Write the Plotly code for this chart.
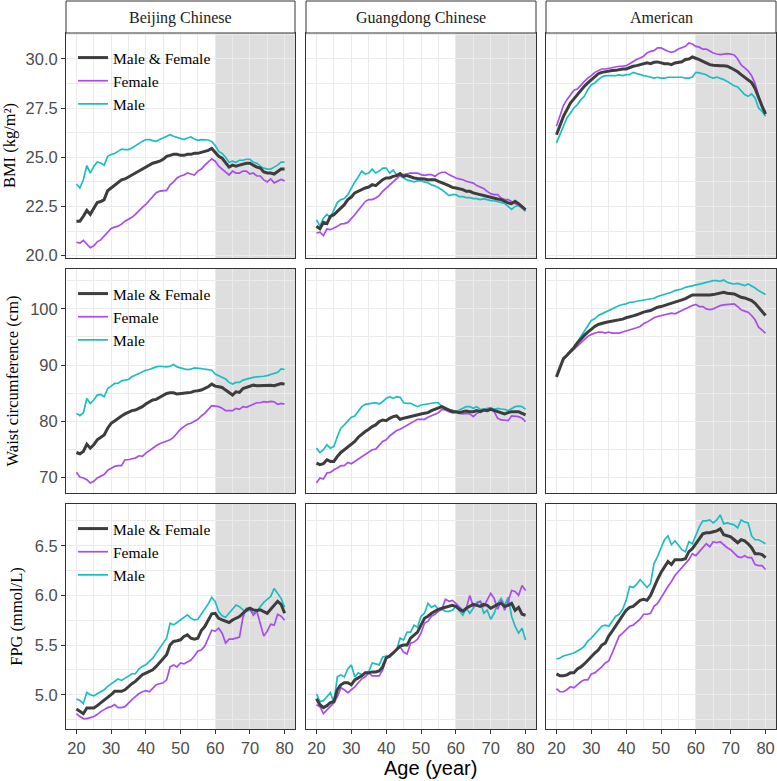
import plotly.graph_objects as go

ages = list(range(20, 81))
columns = ["Beijing Chinese", "Guangdong Chinese", "American"]
series_names = ["Male & Female", "Female", "Male"]
row_titles = ["BMI (kg/m\u00b2)", "Waist circumference (cm)", "FPG (mmol/L)"]

# ---------------- BMI ----------------
bmi_bj_all = [21.75, 21.75, 22.0, 22.3, 22.1, 22.4, 22.7, 22.75, 22.85, 23.3,
              23.45, 23.6, 23.7, 23.85, 23.9, 24.0, 24.1, 24.2, 24.3, 24.4,
              24.5, 24.6, 24.7, 24.75, 24.8, 24.9, 25.05, 25.1, 25.15, 25.15,
              25.1, 25.1, 25.15, 25.15, 25.2, 25.2, 25.25, 25.3, 25.35, 25.45,
              25.25, 25.05, 24.95, 24.75, 24.5, 24.6, 24.55, 24.6, 24.65, 24.7,
              24.7, 24.6, 24.5, 24.45, 24.25, 24.2, 24.2, 24.15, 24.3, 24.4,
              24.4]
bmi_bj_f = [20.68, 20.64, 20.78, 20.6, 20.4, 20.5, 20.7, 20.8, 21.0, 21.2,
            21.38, 21.45, 21.5, 21.6, 21.75, 21.85, 21.95, 22.1, 22.3, 22.45,
            22.6, 22.8, 23.0, 23.2, 23.28, 23.3, 23.32, 23.6, 23.75, 23.95,
            24.05, 24.1, 24.2, 24.15, 24.1, 24.3, 24.4, 24.6, 24.75, 24.92,
            24.8, 24.55, 24.4, 24.25, 24.1, 24.3, 24.2, 24.2, 24.3, 24.3,
            24.15, 24.2, 24.05, 24.05, 23.85, 23.75, 23.9, 23.7, 23.78, 23.87,
            23.8]
bmi_bj_m = [23.64, 23.44, 23.86, 24.58, 24.2, 24.54, 24.76, 24.71, 24.6, 25.05,
            25.14, 25.19, 25.3, 25.42, 25.39, 25.39, 25.47, 25.59, 25.69, 25.81,
            25.9, 25.9, 25.85, 25.81, 25.9, 25.98, 26.07, 26.15, 26.07, 26.0,
            25.93, 25.9, 25.98, 26.03, 25.93, 25.86, 25.9, 25.9, 25.88, 25.81,
            25.6, 25.3, 25.2, 25.0, 24.75, 24.8, 24.75, 24.85, 24.85, 24.9,
            24.9, 24.75, 24.7, 24.55, 24.45, 24.4, 24.4, 24.5, 24.6, 24.75,
            24.75]
bmi_gd_all = [21.49, 21.36, 21.69, 21.63, 22.0, 22.08, 22.25, 22.42, 22.59, 22.85,
              22.98, 23.19, 23.27, 23.39, 23.44, 23.49, 23.61, 23.56, 23.73, 23.86,
              23.95, 23.95, 24.03, 24.07, 24.17, 24.03, 24.07, 24.0, 23.95, 23.92,
              23.92, 23.9, 23.86, 23.86, 23.86, 23.78, 23.69, 23.64, 23.56, 23.47,
              23.44, 23.39, 23.36, 23.27, 23.27, 23.19, 23.14, 23.1, 23.05, 23.02,
              22.98, 22.93, 22.88, 22.85, 22.76, 22.68, 22.64, 22.76, 22.64, 22.51,
              22.34]
bmi_gd_f = [21.15, 21.19, 21.02, 21.36, 21.32, 21.39, 21.49, 21.61, 21.63, 21.69,
            21.86, 22.08, 22.31, 22.54, 22.75, 22.85, 22.85, 22.93, 23.05, 23.27,
            23.44, 23.61, 23.78, 23.95, 24.07, 24.12, 24.17, 24.2, 24.2, 24.2,
            24.12, 24.08, 24.12, 24.12, 24.03, 24.17, 24.24, 24.24, 24.12, 24.03,
            23.95, 23.9, 23.86, 23.78, 23.73, 23.69, 23.56, 23.49, 23.41, 23.27,
            23.15, 23.1, 23.1, 22.93, 22.85, 22.85, 22.76, 22.64, 22.59, 22.46,
            22.31]
bmi_gd_m = [21.83, 21.5, 21.9, 22.1, 21.95, 22.3, 22.7, 22.85, 22.9, 23.1,
            23.45, 23.75, 24.0, 24.3, 24.15, 24.2, 24.4, 24.2, 24.3, 24.45,
            24.45, 24.2, 24.35, 24.1, 24.05, 23.95, 23.85, 23.8, 23.75, 23.8,
            23.8, 23.75, 23.7, 23.6, 23.55, 23.45, 23.35, 23.2, 23.05, 23.1,
            23.1, 23.0, 23.0, 22.95, 22.95, 22.9, 22.9, 22.85, 22.9, 22.85,
            22.8, 22.8, 22.75, 22.7, 22.65, 22.5, 22.35, 22.5, 22.55, 22.4,
            22.25]
bmi_am_all = [26.15, 26.66, 27.08, 27.42, 27.76, 27.97, 28.19, 28.41, 28.61, 28.78,
              28.95, 29.12, 29.25, 29.32, 29.36, 29.37, 29.41, 29.42, 29.46, 29.49,
              29.49, 29.58, 29.63, 29.66, 29.71, 29.76, 29.8, 29.76, 29.83, 29.85,
              29.8, 29.76, 29.76, 29.71, 29.8, 29.83, 29.86, 29.97, 30.0, 30.1,
              30.05, 29.97, 29.88, 29.8, 29.71, 29.68, 29.66, 29.66, 29.66, 29.63,
              29.55, 29.45, 29.35, 29.2, 29.08, 28.95, 28.8, 28.5, 28.0, 27.6,
              27.2]
bmi_am_f = [26.58, 27.17, 27.63, 27.93, 28.19, 28.41, 28.47, 28.69, 28.86, 29.03,
            29.15, 29.32, 29.42, 29.49, 29.49, 29.53, 29.54, 29.58, 29.63, 29.63,
            29.66, 29.76, 29.88, 29.97, 30.05, 30.14, 30.31, 30.39, 30.42, 30.56,
            30.56, 30.47, 30.39, 30.34, 30.39, 30.51, 30.56, 30.64, 30.81, 30.76,
            30.64, 30.6, 30.5, 30.5, 30.4, 30.3, 30.25, 30.22, 30.25, 30.27,
            30.25, 30.2, 30.0, 29.7, 29.55, 29.4, 29.15, 28.75, 28.1, 27.6,
            27.3]
bmi_am_m = [25.73, 26.15, 26.66, 27.0, 27.25, 27.51, 27.68, 27.93, 28.1, 28.44,
            28.69, 28.78, 28.95, 29.08, 29.15, 29.15, 29.12, 29.15, 29.19, 29.15,
            29.2, 29.2, 29.32, 29.25, 29.2, 29.15, 29.12, 29.08, 29.03, 29.07,
            29.03, 29.03, 29.07, 29.07, 29.07, 29.07, 29.07, 29.03, 29.03, 29.08,
            29.32, 29.29, 29.25, 29.2, 29.08, 29.03, 29.08, 29.03, 28.95, 28.86,
            28.75, 28.64, 28.58, 28.41, 28.19, 28.1, 28.22, 28.02, 27.51, 27.34,
            27.08]

# ---------------- Waist circumference ----------------
waist_bj_all = [74.42, 74.19, 74.6, 75.9, 75.19, 75.78, 76.67, 77.14, 77.55, 78.74,
                79.62, 80.04, 80.51, 80.92, 81.28, 81.57, 81.87, 81.98, 82.28, 82.58,
                83.05, 83.46, 83.76, 83.87, 84.23, 84.64, 84.94, 85.06, 85.06, 84.82,
                84.94, 84.94, 85.06, 85.12, 85.35, 85.41, 85.53, 85.82, 86.12, 86.59,
                86.24, 86.12, 86.0, 85.53, 85.06, 84.64, 85.23, 85.12, 85.82, 86.0,
                86.24, 86.41, 86.3, 86.36, 86.41, 86.36, 86.41, 86.3, 86.53, 86.71,
                86.59]
waist_bj_f = [70.88, 70.05, 69.88, 69.58, 68.99, 69.29, 69.88, 70.17, 70.47, 71.23,
              71.65, 71.94, 72.06, 72.06, 73.12, 73.12, 73.3, 73.42, 73.83, 73.72,
              74.31, 74.78, 75.19, 75.61, 75.96, 76.2, 76.37, 76.67, 77.14, 77.85,
              78.56, 79.03, 79.44, 79.62, 79.92, 80.33, 80.92, 81.39, 82.1, 82.75,
              82.69, 82.58, 82.28, 81.87, 81.87, 81.87, 82.28, 82.1, 82.58, 82.46,
              82.75, 83.05, 83.28, 83.28, 83.46, 83.4, 83.52, 83.46, 82.99, 83.17,
              83.05]
waist_bj_m = [81.39, 80.98, 81.51, 84.05, 83.17, 83.76, 84.64, 84.76, 84.35, 85.82,
              86.24, 86.71, 86.71, 87.18, 87.3, 87.42, 87.89, 88.19, 88.48, 88.9,
              89.07, 89.19, 89.49, 89.66, 89.78, 89.66, 89.66, 89.78, 90.08, 89.66,
              89.55, 89.31, 89.19, 89.25, 89.49, 89.49, 89.37, 89.25, 89.19, 89.07,
              88.4, 88.1, 87.9, 87.5, 86.9, 86.6, 86.9, 86.9, 87.3, 87.5,
              87.7, 87.8, 87.9, 87.9, 88.0, 88.1, 88.3, 88.5, 88.7, 89.3,
              89.2]
waist_gd_all = [72.53, 72.24, 72.42, 73.12, 72.83, 72.83, 73.72, 74.42, 74.9, 75.37,
                75.96, 76.37, 77.14, 77.73, 78.15, 78.56, 79.03, 79.33, 79.92, 80.21,
                80.09, 80.51, 80.8, 80.92, 80.33, 80.51, 80.69, 80.8, 80.92, 81.1,
                81.28, 81.39, 81.51, 81.87, 82.1, 82.28, 82.58, 82.28, 81.98, 81.69,
                81.69, 81.51, 81.69, 81.81, 81.69, 81.69, 81.87, 81.69, 81.98, 81.87,
                82.1, 81.87, 81.69, 81.51, 81.28, 81.51, 81.69, 81.69, 81.69, 81.39,
                81.1]
waist_gd_f = [68.99, 69.88, 69.7, 70.76, 70.88, 71.35, 71.65, 72.06, 72.06, 72.65,
              72.42, 72.83, 73.24, 73.72, 74.19, 74.6, 74.9, 75.02, 75.78, 76.37,
              76.67, 77.38, 77.85, 78.32, 78.56, 78.91, 79.33, 79.62, 79.92, 80.33,
              80.33, 80.33, 80.69, 80.92, 81.28, 81.51, 82.1, 81.98, 81.69, 81.51,
              81.51, 81.39, 81.28, 81.39, 81.28, 80.8, 81.39, 81.69, 81.98, 82.1,
              82.28, 81.69, 80.51, 80.21, 80.09, 80.09, 80.92, 80.92, 80.8, 80.51,
              79.92]
waist_gd_m = [75.19, 74.42, 74.9, 75.78, 75.19, 75.49, 77.26, 78.74, 79.33, 80.09,
              80.69, 80.92, 81.69, 82.58, 82.99, 83.05, 83.17, 83.28, 83.05, 83.46,
              84.05, 84.35, 84.05, 84.35, 84.23, 83.28, 83.17, 83.17, 82.87, 82.58,
              82.87, 82.99, 83.17, 83.28, 83.28, 83.28, 82.58, 82.1, 81.98, 81.98,
              81.69, 81.98, 82.16, 82.58, 82.58, 82.28, 82.58, 82.1, 82.1, 82.22,
              82.4, 82.1, 82.28, 82.16, 82.1, 81.87, 82.28, 82.58, 82.69, 82.58,
              82.1]
waist_am_all = [87.89, 89.37, 91.14, 91.73, 92.32, 93.09, 93.92, 94.68, 95.27, 95.87,
                96.46, 96.87, 97.22, 97.46, 97.58, 97.7, 97.81, 97.93, 98.05, 98.17,
                98.41, 98.52, 98.76, 98.94, 99.23, 99.41, 99.59, 99.7, 100.0, 100.3,
                100.41, 100.59, 100.77, 101.0, 101.18, 101.36, 101.59, 101.83, 102.19, 102.48,
                102.48, 102.48, 102.36, 102.42, 102.48, 102.54, 102.66, 102.78, 102.95, 102.78,
                102.66, 102.66, 102.36, 102.07, 101.95, 101.77, 101.48, 101.0, 100.3, 99.41,
                98.82]
waist_am_f = [87.89, 89.37, 90.96, 91.61, 92.2, 92.91, 93.5, 94.09, 94.68, 95.1,
              95.45, 95.69, 95.87, 95.87, 95.69, 95.87, 95.69, 95.69, 95.69, 95.87,
              96.04, 96.16, 96.46, 96.63, 96.87, 97.34, 97.64, 98.05, 98.41, 98.64,
              98.82, 98.94, 99.11, 99.23, 99.11, 99.41, 99.7, 100.0, 100.3, 100.59,
              100.77, 100.41, 100.41, 100.0, 99.88, 100.0, 100.3, 100.59, 100.71, 100.77,
              100.77, 100.89, 100.41, 99.82, 99.59, 99.41, 98.82, 98.05, 96.75, 96.16,
              95.69]
waist_am_m = [87.89, 89.37, 91.14, 91.73, 92.44, 93.21, 94.09, 95.1, 96.16, 97.05,
              97.93, 98.23, 98.82, 99.11, 99.41, 99.7, 100.0, 100.3, 100.59, 100.77,
              100.89, 101.18, 101.18, 101.36, 101.48, 101.48, 101.59, 101.71, 101.89, 102.19,
              102.36, 102.54, 102.78, 102.95, 103.25, 103.37, 103.54, 103.84, 103.96, 104.13,
              104.31, 104.43, 104.55, 104.73, 104.9, 105.02, 105.02, 104.9, 105.14, 104.73,
              104.55, 104.43, 104.55, 104.31, 104.13, 104.43, 104.13, 103.72, 103.25, 102.95,
              102.54]

# ---------------- FPG ----------------
fpg_bj_all = [4.856, 4.833, 4.809, 4.866, 4.866, 4.866, 4.890, 4.916, 4.950, 4.977,
              5.0, 5.034, 5.034, 5.034, 5.050, 5.084, 5.111, 5.134, 5.168, 5.201,
              5.218, 5.235, 5.251, 5.285, 5.325, 5.358, 5.402, 5.502, 5.536, 5.543,
              5.553, 5.586, 5.603, 5.569, 5.559, 5.569, 5.646, 5.686, 5.753, 5.814,
              5.820, 5.770, 5.753, 5.737, 5.727, 5.753, 5.770, 5.787, 5.820, 5.854,
              5.871, 5.854, 5.847, 5.854, 5.837, 5.820, 5.861, 5.90, 5.94, 5.91,
              5.82]
fpg_bj_f = [4.81, 4.78, 4.76, 4.76, 4.77, 4.78, 4.80, 4.83, 4.85, 4.87,
            4.88, 4.90, 4.87, 4.87, 4.88, 4.92, 4.95, 4.98, 5.01, 5.03,
            5.04, 5.03, 5.07, 5.10, 5.11, 5.12, 5.15, 5.28, 5.30, 5.28,
            5.32, 5.31, 5.33, 5.35, 5.39, 5.44, 5.45, 5.49, 5.57, 5.65,
            5.64, 5.67, 5.62, 5.52, 5.56, 5.56, 5.57, 5.58, 5.78, 5.87,
            5.87, 5.80, 5.84, 5.70, 5.59, 5.64, 5.71, 5.70, 5.81, 5.79,
            5.75]
fpg_bj_m = [4.957, 4.943, 4.910, 5.024, 5.0, 4.990, 5.010, 5.034, 5.050, 5.084,
            5.111, 5.134, 5.158, 5.144, 5.168, 5.191, 5.211, 5.211, 5.258, 5.285,
            5.301, 5.335, 5.368, 5.419, 5.469, 5.519, 5.569, 5.720, 5.703, 5.727,
            5.753, 5.780, 5.804, 5.770, 5.753, 5.760, 5.814, 5.854, 5.914, 5.981,
            5.938, 5.837, 5.794, 5.780, 5.820, 5.871, 5.904, 5.887, 5.854, 5.837,
            5.854, 5.820, 5.837, 5.887, 5.93, 5.96, 5.99, 6.07, 6.02, 5.97,
            5.88]
fpg_gd_all = [4.96, 4.90, 4.87, 4.89, 4.92, 4.93, 5.05, 5.10, 5.12, 5.12,
              5.10, 5.15, 5.17, 5.19, 5.22, 5.22, 5.23, 5.23, 5.24, 5.28,
              5.37, 5.39, 5.42, 5.46, 5.49, 5.50, 5.50, 5.57, 5.60, 5.63,
              5.70, 5.77, 5.79, 5.82, 5.84, 5.86, 5.87, 5.88, 5.89, 5.90,
              5.89, 5.86, 5.84, 5.87, 5.89, 5.91, 5.90, 5.89, 5.91, 5.90,
              5.87, 5.89, 5.91, 5.92, 5.89, 5.90, 5.92, 5.85, 5.88, 5.81,
              5.80]
fpg_gd_f = [4.90, 4.88, 4.81, 4.85, 4.88, 4.92, 4.98, 5.07, 5.05, 5.02,
            5.05, 5.08, 5.12, 5.16, 5.18, 5.22, 5.19, 5.19, 5.19, 5.25,
            5.37, 5.38, 5.42, 5.45, 5.48, 5.43, 5.41, 5.52, 5.53, 5.56,
            5.62, 5.72, 5.74, 5.79, 5.81, 5.84, 5.86, 5.96, 5.94, 5.95,
            5.92, 5.89, 5.85, 5.87, 6.00, 5.89, 5.92, 5.94, 5.89, 5.95,
            6.02, 5.97, 5.86, 5.95, 5.85, 5.94, 6.05, 6.04, 6.00, 6.10,
            6.05]
fpg_gd_m = [5.01, 4.93, 4.94, 4.98, 5.02, 4.92, 5.18, 5.20, 5.18, 5.26,
            5.30, 5.18, 5.22, 5.20, 5.22, 5.23, 5.32, 5.31, 5.30, 5.38,
            5.39, 5.39, 5.42, 5.45, 5.57, 5.55, 5.63, 5.63, 5.70, 5.68,
            5.79, 5.82, 5.92, 5.88, 5.90, 5.86, 5.86, 5.84, 5.84, 5.85,
            5.89, 5.84, 5.80, 5.87, 5.82, 5.87, 5.93, 5.94, 5.82, 5.85,
            5.76, 5.82, 5.92, 5.97, 5.90, 5.98, 5.79, 5.69, 5.62, 5.67,
            5.55]
fpg_am_all = [5.21, 5.19, 5.19, 5.20, 5.22, 5.22, 5.26, 5.28, 5.31, 5.35,
              5.39, 5.42, 5.45, 5.50, 5.52, 5.59, 5.64, 5.69, 5.74, 5.79,
              5.85, 5.88, 5.89, 5.92, 5.95, 5.96, 5.95, 6.00, 6.09, 6.16,
              6.23, 6.28, 6.34, 6.31, 6.36, 6.36, 6.36, 6.37, 6.44, 6.47,
              6.52, 6.57, 6.62, 6.63, 6.63, 6.64, 6.65, 6.67, 6.61, 6.60,
              6.59, 6.56, 6.53, 6.56, 6.55, 6.52, 6.48, 6.42, 6.42, 6.41,
              6.38]
fpg_am_f = [5.06, 5.03, 5.03, 5.05, 5.08, 5.07, 5.10, 5.13, 5.15, 5.15,
            5.21, 5.22, 5.25, 5.28, 5.32, 5.34, 5.42, 5.50, 5.59, 5.62,
            5.65, 5.69, 5.70, 5.73, 5.76, 5.81, 5.81, 5.82, 5.89, 5.92,
            5.98, 6.04, 6.09, 6.14, 6.20, 6.24, 6.28, 6.32, 6.36, 6.42,
            6.40, 6.44, 6.48, 6.52, 6.49, 6.54, 6.53, 6.54, 6.51, 6.48,
            6.46, 6.42, 6.39, 6.38, 6.40, 6.38, 6.38, 6.31, 6.30, 6.30,
            6.26]
fpg_am_m = [5.36, 5.37, 5.39, 5.40, 5.41, 5.42, 5.44, 5.46, 5.49, 5.54,
            5.57, 5.61, 5.65, 5.69, 5.70, 5.69, 5.74, 5.79, 5.81, 5.86,
            5.95, 6.09, 6.08, 6.11, 6.16, 6.12, 6.08, 6.12, 6.32, 6.39,
            6.47, 6.56, 6.60, 6.51, 6.55, 6.51, 6.46, 6.44, 6.54, 6.52,
            6.61, 6.69, 6.75, 6.75, 6.76, 6.73, 6.76, 6.81, 6.72, 6.73,
            6.72, 6.71, 6.68, 6.76, 6.74, 6.73, 6.60, 6.56, 6.56, 6.54,
            6.52]

data = [
    [(bmi_bj_all, bmi_bj_f, bmi_bj_m), (bmi_gd_all, bmi_gd_f, bmi_gd_m), (bmi_am_all, bmi_am_f, bmi_am_m)],
    [(waist_bj_all, waist_bj_f, waist_bj_m), (waist_gd_all, waist_gd_f, waist_gd_m), (waist_am_all, waist_am_f, waist_am_m)],
    [(fpg_bj_all, fpg_bj_f, fpg_bj_m), (fpg_gd_all, fpg_gd_f, fpg_gd_m), (fpg_am_all, fpg_am_f, fpg_am_m)],
]
for row in data:
    for trip in row:
        for s in trip:
            assert len(s) == len(ages)

x_ticks = [20, 30, 40, 50, 60, 70, 80]
x_minor = [25, 35, 45, 55, 65, 75]
y_ranges = [[19.88, 31.32], [67.2, 107.1], [4.655, 6.92]]
y_ticks = [[20.0, 22.5, 25.0, 27.5, 30.0], [70, 80, 90, 100], [5.0, 5.5, 6.0, 6.5]]
y_minor = [[21.25, 23.75, 26.25, 28.75, 31.25], [75, 85, 95, 105], [4.75, 5.25, 5.75, 6.25, 6.75]]
y_fmt = [".1f", "d", ".1f"]
shade_start = 60

colors = {"Male & Female": "#3d3d3d", "Female": "#a84cee", "Male": "#1bbec4"}
widths = {"Male & Female": 3.0, "Female": 1.7, "Male": 1.7}
ranks = {"Male & Female": 1, "Female": 2, "Male": 3}

W, H = 777, 781
col_px = [(66, 295), (306, 536), (546, 776)]
row_px = [(33, 258), (269, 493), (504, 729)]
strip_px = (1, 33)

SERIF = "Liberation Serif, Times New Roman, serif"
SANS = "Liberation Sans, Arial, sans-serif"
GRID = "#ebebeb"
BORDER = "#333333"
TICKC = "#4d4d4d"

fig = go.Figure()
layout = dict(
    width=W, height=H, template="none",
    margin=dict(l=0, r=0, t=0, b=0),
    paper_bgcolor="white", plot_bgcolor="white",
    showlegend=True, shapes=[], annotations=[],
)

legend_names = ["legend", "legend2", "legend3"]

for r in range(3):
    for c in range(3):
        i = r * 3 + c + 1
        xa = "x" if i == 1 else f"x{i}"
        ya = "y" if i == 1 else f"y{i}"
        xl, xr = col_px[c]
        yt, yb = row_px[r]
        bottom = (r == 2)
        left = (c == 0)
        layout[f"xaxis{i}"] = dict(
            domain=[xl / W, xr / W], anchor=ya, range=[17, 83],
            tickvals=x_ticks, showticklabels=bottom,
            ticks="outside" if bottom else "", ticklen=4, tickcolor=BORDER, tickwidth=1,
            tickfont=dict(family=SANS, size=16.5, color=TICKC),
            showgrid=True, gridcolor=GRID, gridwidth=1,
            minor=dict(tickvals=x_minor, showgrid=True, gridcolor=GRID, gridwidth=0.6, ticks=""),
            showline=True, mirror=True, linecolor=BORDER, linewidth=1, zeroline=False,
            automargin=False, fixedrange=True,
        )
        ydict = dict(
            domain=[1 - yb / H, 1 - yt / H], anchor=xa, range=y_ranges[r],
            tickvals=y_ticks[r], tickformat=y_fmt[r], showticklabels=left,
            ticks="outside" if left else "", ticklen=4, tickcolor=BORDER, tickwidth=1,
            tickfont=dict(family=SANS, size=16.5, color=TICKC),
            showgrid=True, gridcolor=GRID, gridwidth=1,
            minor=dict(tickvals=y_minor[r], showgrid=True, gridcolor=GRID, gridwidth=0.6, ticks=""),
            showline=True, mirror=True, linecolor=BORDER, linewidth=1, zeroline=False,
            automargin=False, fixedrange=True,
        )
        if left:
            ydict["title"] = dict(text=row_titles[r], font=dict(family=SERIF, size=16.5, color="black"), standoff=7)
        layout[f"yaxis{i}"] = ydict

        # shaded age >= 60 region
        layout["shapes"].append(dict(
            type="rect", xref=xa, yref=f"{ya} domain", x0=shade_start, x1=83, y0=0, y1=1,
            fillcolor="#dedede", line=dict(width=0), layer="below"))

        all_s, fem_s, male_s = data[r][c]
        for name, vals in (("Male", male_s), ("Female", fem_s), ("Male & Female", all_s)):
            fig.add_trace(go.Scatter(
                x=ages, y=vals, mode="lines", name=name,
                line=dict(color=colors[name], width=widths[name]),
                xaxis=xa, yaxis=ya,
                showlegend=left, legend=legend_names[r], legendrank=ranks[name],
                hoverinfo="skip",
            ))

# strips
for c, title in enumerate(columns):
    xl, xr = col_px[c]
    layout["shapes"].append(dict(
        type="rect", xref="paper", yref="paper",
        x0=xl / W, x1=xr / W, y0=1 - strip_px[1] / H, y1=1 - strip_px[0] / H,
        fillcolor="white", line=dict(color=BORDER, width=1), layer="above"))
    layout["annotations"].append(dict(
        text=title, xref="paper", yref="paper", x=(xl + xr) / 2 / W, y=1 - 17.5 / H,
        xanchor="center", yanchor="middle", showarrow=False,
        font=dict(family=SERIF, size=16, color="#1a1a1a")))

# x-axis title
layout["annotations"].append(dict(
    text="Age (year)", xref="paper", yref="paper", x=430 / W, y=1 - 768 / H,
    xanchor="center", yanchor="middle", showarrow=False,
    font=dict(family=SANS, size=20, color="black")))

# legends
for r, ln in enumerate(legend_names):
    yt = row_px[r][0]
    layout[ln] = dict(
        x=73 / W, y=1 - (yt + 8) / H, xanchor="left", yanchor="top",
        bgcolor="rgba(0,0,0,0)", borderwidth=0, itemwidth=30,
        font=dict(family=SERIF, size=15.5, color="black"),
        tracegroupgap=0, itemclick=False, itemdoubleclick=False,
    )

fig.update_layout(**layout)
fig.write_html(
    "out.html",
    config={"displayModeBar": False},
    post_script="document.documentElement.style.margin='0';document.body.style.margin='0';"
                "document.body.style.padding='0';document.body.style.overflow='hidden';",
)
